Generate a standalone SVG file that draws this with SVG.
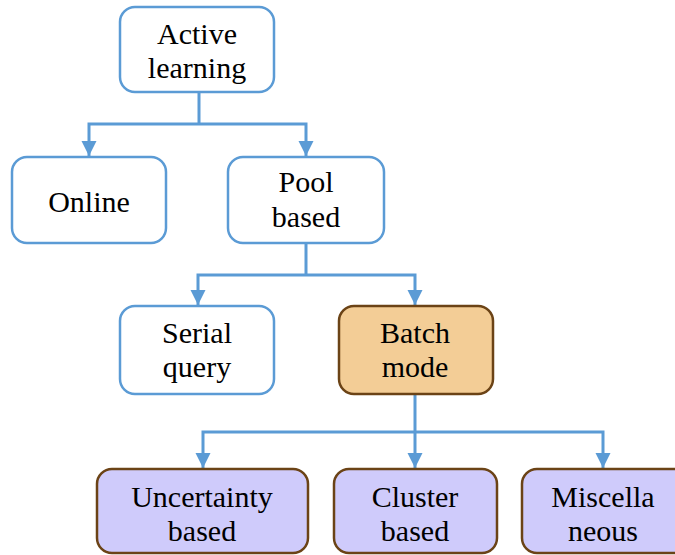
<svg xmlns="http://www.w3.org/2000/svg" width="675" height="555" viewBox="0 0 675 555">
<defs>
<marker id="ah" markerUnits="userSpaceOnUse" markerWidth="18" markerHeight="18" viewBox="0 0 18 18" refX="15" refY="9" orient="auto">
<path d="M0,1.5 L15,9 L0,16.5 Z" fill="#5B9BD5"/>
</marker>
<style>
.b{fill:#fff;stroke:#5B9BD5;stroke-width:2.5}
.o{fill:#F3CD96;stroke:#6B4316;stroke-width:2.5}
.p{fill:#CFCBFB;stroke:#6B4316;stroke-width:2.5}
.c{fill:none;stroke:#5B9BD5;stroke-width:3}
text{font-family:"Liberation Serif","DejaVu Serif",serif;font-size:30px;fill:#000;text-anchor:middle}
</style>
</defs>
<g id="connectors">
<path class="c" d="M199,92 V124"/>
<path class="c" d="M199,124 H89 V156" marker-end="url(#ah)"/>
<path class="c" d="M199,124 H306 V156" marker-end="url(#ah)"/>
<path class="c" d="M306,243 V275"/>
<path class="c" d="M306,275 H198 V305" marker-end="url(#ah)"/>
<path class="c" d="M306,275 H415 V305" marker-end="url(#ah)"/>
<path class="c" d="M415,394 V468" marker-end="url(#ah)"/>
<path class="c" d="M415,432 H203 V468" marker-end="url(#ah)"/>
<path class="c" d="M415,432 H603 V468" marker-end="url(#ah)"/>
</g>
<g id="active-learning"><rect class="b" x="120" y="7" width="154" height="85" rx="15"/><text x="197" y="44">Active</text><text x="197" y="78">learning</text></g>
<g id="online"><rect class="b" x="12" y="157" width="154" height="86" rx="15"/><text x="89" y="212">Online</text></g>
<g id="pool-based"><rect class="b" x="228" y="157" width="156" height="86" rx="15"/><text x="306" y="192">Pool</text><text x="306" y="227">based</text></g>
<g id="serial-query"><rect class="b" x="120" y="306" width="154" height="88" rx="15"/><text x="197" y="343">Serial</text><text x="197" y="377">query</text></g>
<g id="batch-mode"><rect class="o" x="339" y="306" width="154" height="88" rx="15"/><text x="415" y="343">Batch</text><text x="415" y="377">mode</text></g>
<g id="uncertainty-based"><rect class="p" x="97" y="469" width="211" height="84" rx="15"/><text x="202" y="507">Uncertainty</text><text x="202" y="541">based</text></g>
<g id="cluster-based"><rect class="p" x="334" y="469" width="163" height="84" rx="15"/><text x="415" y="507">Cluster</text><text x="415" y="541">based</text></g>
<g id="miscellaneous"><rect class="p" x="522" y="469" width="170" height="84" rx="15"/><text x="603" y="507">Miscella</text><text x="603" y="541">neous</text></g>
</svg>
